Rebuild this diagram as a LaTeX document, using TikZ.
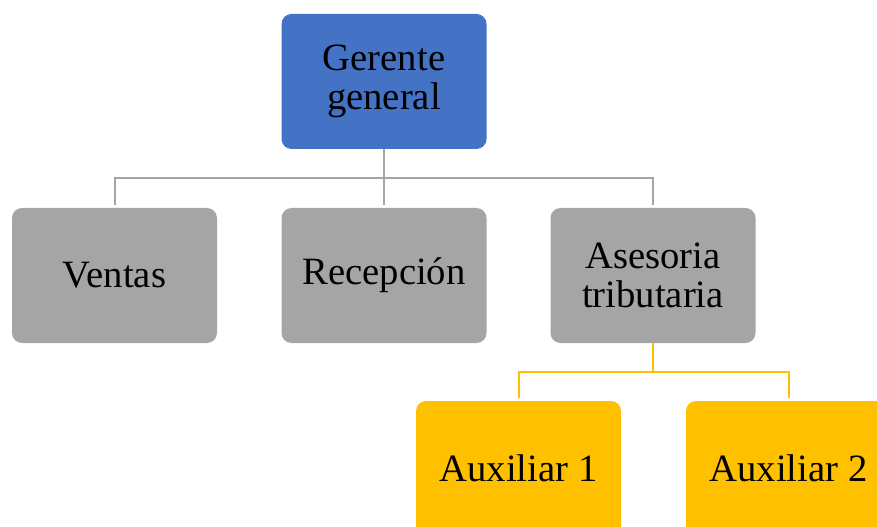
\documentclass[tikz,border=0pt]{standalone}
\usepackage{fontspec}
\setmainfont{Liberation Serif}
\usetikzlibrary{positioning, calc}

\begin{document}
\begin{tikzpicture}[x=0.75pt, y=-0.75pt]
% --- COLORES ---
\definecolor{azul}{HTML}{4472C4}
\definecolor{gris}{HTML}{A5A5A5}
\definecolor{oro}{HTML}{FFC000}
\tikzset{
  caja/.style={rounded corners=7.5pt, minimum width=153.75pt, minimum height=101.25pt,
    align=center, inner sep=0pt, text=black, font=\fontsize{29}{29.5}\selectfont},
  lineagris/.style={draw=gris, line width=1.5pt, shorten >=2pt},
  lineaoro/.style={draw=oro, line width=1.5pt, shorten >=2pt}
}

% CAPA 1: lienzo
\useasboundingbox (0,0) rectangle (877,527);
\clip (0,0) rectangle (877,527);

% CAPA 2: cajas
\node[caja, fill=azul] (gerente) at (384,81.5) {Gerente\\general};
\node[caja, fill=gris] (ventas) at (114.5,275.5) {Ventas};
\node[caja, fill=gris] (recepcion) at (384,275.5) {Recepción};
\node[caja, fill=gris] (asesoria) at (653,275.5) {Asesoria\\tributaria};
\node[caja, fill=oro] (aux1) at (518.5,468.5) {Auxiliar 1};
\node[caja, fill=oro] (aux2) at (788.5,468.5) {Auxiliar 2};

% CAPA 3: conectores
\coordinate (busg) at (384,178);
\coordinate (buso) at (653,371.5);
\draw[lineagris] (gerente.south) -- (recepcion.north);
\draw[lineagris] (busg) -| (ventas.north);
\draw[lineagris] (busg) -| (asesoria.north);
\draw[lineaoro, shorten >=0pt] (asesoria.south) -- (buso);
\draw[lineaoro] (buso) -| (aux1.north);
\draw[lineaoro] (buso) -| (aux2.north);
\end{tikzpicture}
\end{document}
